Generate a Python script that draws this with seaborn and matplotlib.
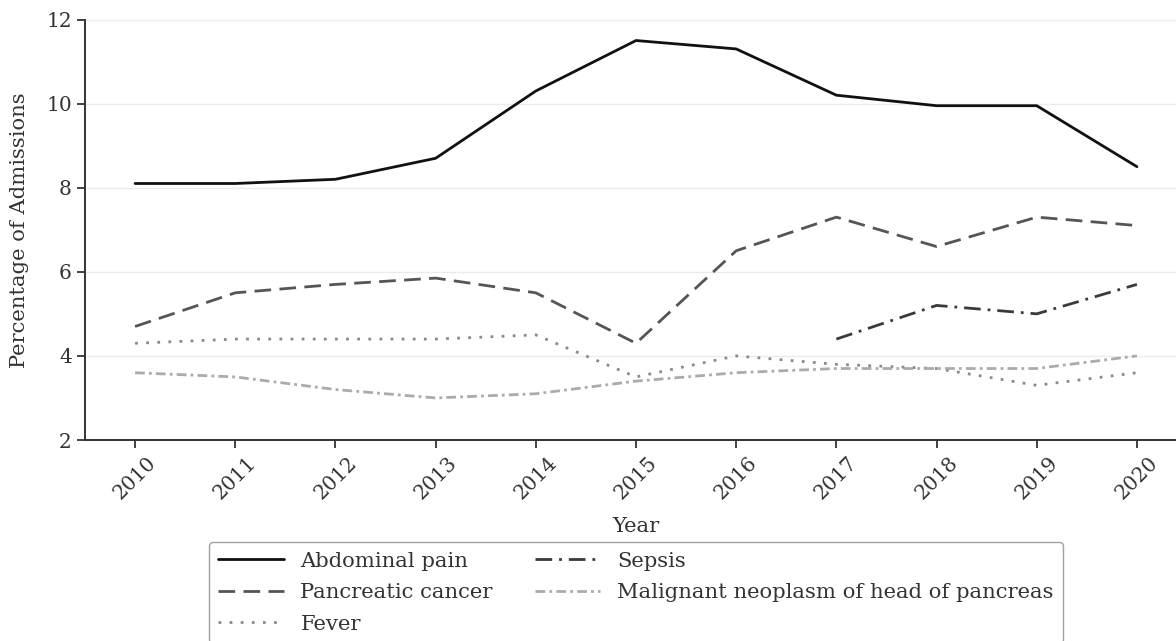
import numpy as np
import pandas as pd
import matplotlib
matplotlib.use("Agg")
import matplotlib.pyplot as plt
import seaborn as sns

years = list(range(2010, 2021))

abdominal_pain = [8.1, 8.1, 8.2, 8.7, 10.3, 11.5, 11.3, 10.2, 9.95, 9.95, 8.5]
pancreatic_cancer = [4.7, 5.5, 5.7, 5.85, 5.5, 4.3, 6.5, 7.3, 6.6, 7.3, 7.1]
fever = [4.3, 4.4, 4.4, 4.4, 4.5, 3.5, 4.0, 3.8, 3.7, 3.3, 3.6]
sepsis = [np.nan] * 7 + [4.4, 5.2, 5.0, 5.7]
malignant_head = [3.6, 3.5, 3.2, 3.0, 3.1, 3.4, 3.6, 3.7, 3.7, 3.7, 4.0]

series_names = [
    "Abdominal pain",
    "Pancreatic cancer",
    "Fever",
    "Sepsis",
    "Malignant neoplasm of head of pancreas",
]
series_values = [abdominal_pain, pancreatic_cancer, fever, sepsis, malignant_head]

rows = []
for name, vals in zip(series_names, series_values):
    for yr, v in zip(years, vals):
        rows.append({"Year": yr, "Percentage": v, "Diagnosis": name})
df = pd.DataFrame(rows).dropna()

palette = {
    "Abdominal pain": "#111111",
    "Pancreatic cancer": "#555555",
    "Fever": "#8a8a8a",
    "Sepsis": "#3a3a3a",
    "Malignant neoplasm of head of pancreas": "#ababab",
}
dashes = {
    "Abdominal pain": "",
    "Pancreatic cancer": (6, 3),
    "Fever": (1, 3),
    "Sepsis": (6, 2.5, 1, 2.5),
    "Malignant neoplasm of head of pancreas": (3.5, 1.5, 1, 1.5),
}

sns.set_theme(style="ticks")
plt.rcParams["font.family"] = ["DejaVu Serif"]

fig = plt.figure(figsize=(11.76, 6.41), dpi=100)
W, H = 1176, 641
left, right, top, bottom = 85, 1187, 19.5, 440
ax = fig.add_axes([left / W, 1 - bottom / H, (right - left) / W, (bottom - top) / H])

sns.lineplot(
    data=df, x="Year", y="Percentage", hue="Diagnosis", style="Diagnosis",
    hue_order=series_names, style_order=series_names,
    palette=palette, dashes=dashes, linewidth=2, ax=ax, legend=True,
)

ax.set_xlim(2009.5, 2020.5)
ax.set_ylim(2, 12)
ax.set_xticks(years)
ax.set_xticklabels([str(y) for y in years], rotation=45, ha="center")
ax.set_yticks([2, 4, 6, 8, 10, 12])
ax.tick_params(axis="both", labelsize=14.5, colors="#333333", length=6, width=1.3)
ax.yaxis.grid(True, color="#ececec", linewidth=1)
ax.xaxis.grid(False)
for s in ["top", "right"]:
    ax.spines[s].set_visible(False)
for s in ["left", "bottom"]:
    ax.spines[s].set_color("#333333")
    ax.spines[s].set_linewidth(1.4)

ax.set_xlabel("Year", fontsize=15.2, color="#333333", labelpad=10)
ax.set_ylabel("Percentage of Admissions", fontsize=15.2, color="#333333", labelpad=12)

handles, labels = ax.get_legend_handles_labels()
ax.legend(
    handles, labels, ncol=2, loc="upper center",
    bbox_to_anchor=(0.5, -0.2426), fontsize=15.2, frameon=True,
    edgecolor="#888888", fancybox=True, labelspacing=0.6,
    handlelength=3.1, handletextpad=0.8, columnspacing=2.0,
    borderpad=0.45, borderaxespad=0.0, labelcolor="#333333",
)

fig.savefig("out.png", dpi=100)
